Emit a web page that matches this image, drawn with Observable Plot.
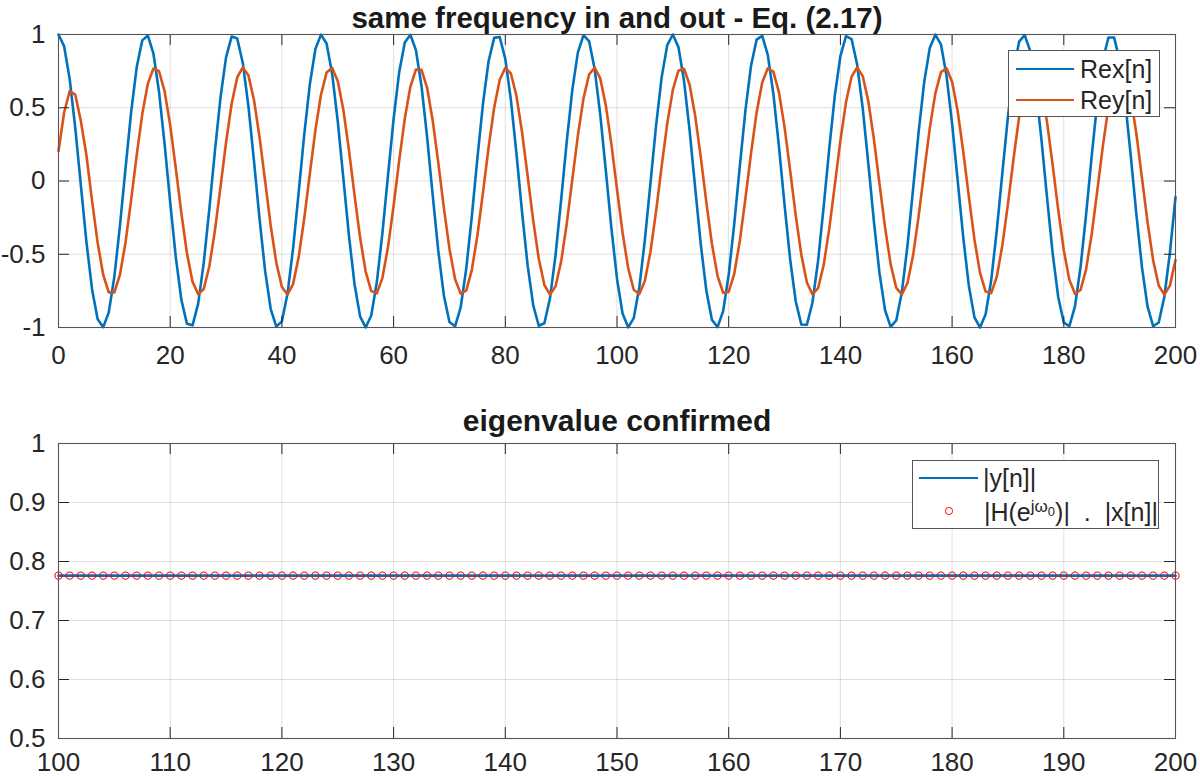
<!DOCTYPE html>
<html>
<head>
<meta charset="utf-8">
<script src="https://cdn.jsdelivr.net/npm/d3@7"></script>
<script src="https://cdn.jsdelivr.net/npm/@observablehq/plot@0.6"></script>
<style>
  html, body { margin: 0; padding: 0; background: #fff; }
  #wrap { position: relative; width: 1200px; height: 777px; overflow: hidden; background: #fff;
          font-family: "Liberation Sans", Arial, Helvetica, sans-serif; color: #262626; }
  .panel { position: absolute; left: 0; }
  .legend { position: absolute; box-sizing: border-box; background: #fff; border: 1px solid #555; }
  .legend .sw { position: absolute; height: 2.6px; }
  .legend .tx { position: absolute; font-size: 25px; line-height: 30px; height: 30px; white-space: nowrap; color: #262626; }
  .legend .circ { position: absolute; width: 7.4px; height: 7.4px; box-sizing: border-box; border: 1.1px solid #ff0000; border-radius: 50%; }
  sup { font-size: 17px; line-height: 0; vertical-align: 9px; }
  sup sub { font-size: 13px; vertical-align: -4px; }
</style>
</head>
<body>
<div id="wrap">
  <div class="panel" id="topPanel" style="top:0"></div>
  <div class="panel" id="botPanel" style="top:390px"></div>

  <div class="legend" style="left:1008px; top:50px; width:152px; height:67px;">
    <div class="sw" style="left:7px; width:58px; top:16.7px; background:#0072BD"></div>
    <div class="tx" style="left:71px; top:3px">Rex[n]</div>
    <div class="sw" style="left:7px; width:58px; top:47.7px; background:#D95319"></div>
    <div class="tx" style="left:71px; top:34px">Rey[n]</div>
  </div>

  <div class="legend" style="left:912px; top:460px; width:247px; height:69px;">
    <div class="sw" style="left:6px; width:59px; top:15.7px; background:#0072BD"></div>
    <div class="tx" style="left:70px; top:2px">|y[n]|</div>
    <div class="circ" style="left:32.3px; top:46.3px"></div>
    <div class="tx" style="left:71px; top:36px">|H(e<sup>jω<sub>0</sub></sup>)|&nbsp;&nbsp;.&nbsp;&nbsp;|x[n]|</div>
  </div>
</div>

<script>
// ---------- data ----------
const topTitle = "same frequency in and out - Eq. (2.17)";
const botTitle = "eigenvalue confirmed";

const xTicksTop = [0, 20, 40, 60, 80, 100, 120, 140, 160, 180, 200];
const yTicksTop = [-1, -0.5, 0, 0.5, 1];
const xTicksBot = [100, 110, 120, 130, 140, 150, 160, 170, 180, 190, 200];
const yTicksBot = [0.5, 0.6, 0.7, 0.8, 0.9, 1];

// Re x[n], n = 0..200
const rex = [
  1.000, 0.921, 0.697, 0.362, -0.029, -0.416, -0.737, -0.942, -0.998, -0.897,
  -0.654, -0.307, 0.087, 0.469, 0.776, 0.960, 0.993, 0.869, 0.608, 0.251,
  -0.146, -0.519, -0.811, -0.975, -0.985, -0.839, -0.561, -0.194, 0.203, 0.568,
  0.844, 0.986, 0.973, 0.806, 0.512, 0.137, -0.260, -0.615, -0.874, -0.994,
  -0.958, -0.770, -0.461, -0.079, 0.316, 0.660, 0.901, 0.999, 0.939, 0.731,
  0.408, 0.020, -0.371, -0.703, -0.924, -1.000, -0.918, -0.690, -0.354, 0.038,
  0.424, 0.743, 0.945, 0.998, 0.893, 0.647, 0.299, -0.096, -0.477, -0.781,
  -0.963, -0.992, -0.865, -0.601, -0.243, 0.154, 0.527, 0.816, 0.977, 0.983,
  0.834, 0.554, 0.186, -0.212, -0.576, -0.849, -0.988, -0.971, -0.801, -0.504,
  -0.128, 0.268, 0.622, 0.878, 0.995, 0.955, 0.764, 0.453, 0.070, -0.324,
  -0.667, -0.905, -0.999, -0.936, -0.725, -0.399, -0.011, 0.379, 0.709, 0.928,
  1.000, 0.914, 0.684, 0.346, -0.047, -0.432, -0.749, -0.948, -0.997, -0.889,
  -0.640, -0.291, 0.105, 0.484, 0.787, 0.965, 0.991, 0.861, 0.594, 0.234,
  -0.163, -0.534, -0.821, -0.979, -0.981, -0.829, -0.546, -0.177, 0.220, 0.583,
  0.853, 0.989, 0.969, 0.795, 0.496, 0.119, -0.277, -0.629, -0.882, -0.996,
  -0.952, -0.759, -0.445, -0.061, 0.332, 0.674, 0.908, 0.999, 0.933, 0.719,
  0.392, 0.003, -0.387, -0.716, -0.931, -1.000, -0.910, -0.678, -0.338, 0.056,
  0.440, 0.755, 0.951, 0.996, 0.885, 0.633, 0.282, -0.114, -0.492, -0.792,
  -0.967, -0.990, -0.856, -0.587, -0.226, 0.172, 0.542, 0.826, 0.980, 0.980,
  0.824, 0.539, 0.168, -0.229, -0.590, -0.858, -0.990, -0.966, -0.790, -0.489,
  -0.110
];

// Re y[n], n = 0..200
const rey = [
  0.205, 0.466, 0.614, 0.590, 0.410, 0.176, -0.132, -0.419, -0.640, -0.760,
  -0.760, -0.640, -0.419, -0.131, 0.176, 0.457, 0.665, 0.768, 0.749, 0.612,
  0.380, 0.087, -0.220, -0.493, -0.687, -0.773, -0.737, -0.584, -0.340, -0.042,
  0.263, 0.527, 0.707, 0.775, 0.721, 0.553, 0.299, -0.003, -0.305, -0.558,
  -0.724, -0.775, -0.704, -0.521, -0.256, 0.049, 0.347, 0.589, 0.740, 0.772,
  0.683, 0.486, 0.213, -0.095, -0.386, -0.618, -0.751, -0.767, -0.661, -0.451,
  -0.169, 0.139, 0.425, 0.643, 0.761, 0.759, 0.636, 0.413, 0.125, -0.184,
  -0.462, -0.669, -0.769, -0.748, -0.608, -0.374, -0.080, 0.227, 0.498, 0.691,
  0.773, 0.734, 0.580, 0.333, 0.034, -0.270, -0.532, -0.710, -0.776, -0.719,
  -0.549, -0.292, 0.011, 0.311, 0.564, 0.727, 0.774, 0.700, 0.516, 0.250,
  -0.055, -0.353, -0.594, -0.742, -0.771, -0.679, -0.481, -0.206, 0.101, 0.393,
  0.622, 0.753, 0.766, 0.657, 0.445, 0.163, -0.146, -0.430, -0.647, -0.763,
  -0.757, -0.632, -0.407, -0.118, 0.189, 0.468, 0.672, 0.769, 0.746, 0.605,
  0.368, 0.073, -0.234, -0.503, -0.693, -0.774, -0.732, -0.575, -0.327, -0.028,
  0.276, 0.537, 0.712, 0.775, 0.716, 0.544, 0.286, -0.018, -0.318, -0.569,
  -0.729, -0.774, -0.698, -0.511, -0.243, 0.063, 0.359, 0.598, 0.743, 0.770,
  0.677, 0.476, 0.200, -0.107, -0.399, -0.627, -0.755, -0.765, -0.653, -0.439,
  -0.156, 0.152, 0.437, 0.652, 0.764, 0.756, 0.629, 0.402, 0.111, -0.197,
  -0.473, -0.675, -0.770, -0.744, -0.601, -0.362, -0.066, 0.240, 0.508, 0.696,
  0.774, 0.730, 0.571, 0.321, 0.020, -0.282, -0.542, -0.715, -0.775, -0.714,
  -0.539
];

// |y[n]|, n = 100..200
const absY = [
  0.776, 0.776, 0.776, 0.776, 0.776, 0.776, 0.776, 0.776, 0.776, 0.776,
  0.776, 0.776, 0.776, 0.776, 0.776, 0.776, 0.776, 0.776, 0.776, 0.776,
  0.776, 0.776, 0.776, 0.776, 0.776, 0.776, 0.776, 0.776, 0.776, 0.776,
  0.776, 0.776, 0.776, 0.776, 0.776, 0.776, 0.776, 0.776, 0.776, 0.776,
  0.776, 0.776, 0.776, 0.776, 0.776, 0.776, 0.776, 0.776, 0.776, 0.776,
  0.776, 0.776, 0.776, 0.776, 0.776, 0.776, 0.776, 0.776, 0.776, 0.776,
  0.776, 0.776, 0.776, 0.776, 0.776, 0.776, 0.776, 0.776, 0.776, 0.776,
  0.776, 0.776, 0.776, 0.776, 0.776, 0.776, 0.776, 0.776, 0.776, 0.776,
  0.776, 0.776, 0.776, 0.776, 0.776, 0.776, 0.776, 0.776, 0.776, 0.776,
  0.776, 0.776, 0.776, 0.776, 0.776, 0.776, 0.776, 0.776, 0.776, 0.776,
  0.776
];

// |H(e^{jw0})| . |x[n]|, n = 100..200
const hAbsX = [
  0.776, 0.776, 0.776, 0.776, 0.776, 0.776, 0.776, 0.776, 0.776, 0.776,
  0.776, 0.776, 0.776, 0.776, 0.776, 0.776, 0.776, 0.776, 0.776, 0.776,
  0.776, 0.776, 0.776, 0.776, 0.776, 0.776, 0.776, 0.776, 0.776, 0.776,
  0.776, 0.776, 0.776, 0.776, 0.776, 0.776, 0.776, 0.776, 0.776, 0.776,
  0.776, 0.776, 0.776, 0.776, 0.776, 0.776, 0.776, 0.776, 0.776, 0.776,
  0.776, 0.776, 0.776, 0.776, 0.776, 0.776, 0.776, 0.776, 0.776, 0.776,
  0.776, 0.776, 0.776, 0.776, 0.776, 0.776, 0.776, 0.776, 0.776, 0.776,
  0.776, 0.776, 0.776, 0.776, 0.776, 0.776, 0.776, 0.776, 0.776, 0.776,
  0.776, 0.776, 0.776, 0.776, 0.776, 0.776, 0.776, 0.776, 0.776, 0.776,
  0.776, 0.776, 0.776, 0.776, 0.776, 0.776, 0.776, 0.776, 0.776, 0.776,
  0.776
];

// ---------- tables ----------
const nTop = d3.range(0, 201);
const topRows = nTop.map((n, i) => ({n, rex: rex[i], rey: rey[i]}));
const nBot = d3.range(100, 201);
const botRows = nBot.map((n, i) => ({n, absY: absY[i], hAbsX: hAbsX[i]}));

// ---------- styling ----------
const BLUE = "#0072BD", ORANGE = "#D95319", AXC = "#262626";
const fmt = d => String(d);
const FONT = "'Liberation Sans', Arial, Helvetica, sans-serif";
const W = 1200, ML = 58, MR = 25;
const plotW = W - ML - MR;
const TICK = 11;

function panel({height, marginTop, marginBottom, xDomain, yDomain, xTicks, yTicks, title, titleDy, titleSize, xPad, data}) {
  const plotH = height - marginTop - marginBottom;
  return Plot.plot({
    width: W, height, marginLeft: ML, marginRight: MR, marginTop, marginBottom,
    style: {fontFamily: FONT, fontSize: "26px", color: AXC, background: "transparent", overflow: "visible"},
    x: {domain: xDomain, label: null},
    y: {domain: yDomain, label: null},
    marks: [
      Plot.gridX(xTicks, {stroke: AXC, strokeOpacity: 0.15, strokeWidth: 1}),
      Plot.gridY(yTicks, {stroke: AXC, strokeOpacity: 0.15, strokeWidth: 1}),
      ...data,
      // inward ticks on all four sides
      Plot.tickX(xTicks, {x: d => d, stroke: AXC, strokeWidth: 1, insetTop: plotH - TICK}),
      Plot.tickX(xTicks, {x: d => d, stroke: AXC, strokeWidth: 1, insetBottom: plotH - TICK}),
      Plot.tickY(yTicks, {y: d => d, stroke: AXC, strokeWidth: 1, insetRight: plotW - TICK}),
      Plot.tickY(yTicks, {y: d => d, stroke: AXC, strokeWidth: 1, insetLeft: plotW - TICK}),
      Plot.axisX(xTicks, {anchor: "bottom", tickSize: 0, tickPadding: xPad, tickFormat: fmt, label: null, fill: AXC}),
      Plot.axisY(yTicks, {anchor: "left", tickSize: 0, tickPadding: 13, tickFormat: fmt, label: null, fill: AXC}),
      Plot.frame({stroke: "#555", strokeWidth: 1.1}),
      Plot.text([title], {frameAnchor: "top", lineAnchor: "bottom", dy: titleDy, fontWeight: "bold", fontSize: titleSize, fill: "#1a1a1a"})
    ]
  });
}

const topPlot = panel({
  height: 390, marginTop: 34, marginBottom: 63,
  xDomain: [0, 200], yDomain: [-1, 1], xTicks: xTicksTop, yTicks: yTicksTop,
  title: topTitle, titleDy: -7, titleSize: 29.5, xPad: 18,
  data: [
    Plot.line(topRows, {x: "n", y: "rex", stroke: BLUE, strokeWidth: 2.6}),
    Plot.line(topRows, {x: "n", y: "rey", stroke: ORANGE, strokeWidth: 2.6})
  ]
});

const botPlot = panel({
  height: 387, marginTop: 53, marginBottom: 39,
  xDomain: [100, 200], yDomain: [0.5, 1], xTicks: xTicksBot, yTicks: yTicksBot,
  title: botTitle, titleDy: -13, titleSize: 30, xPad: 14,
  data: [
    Plot.line(botRows, {x: "n", y: "absY", stroke: BLUE, strokeWidth: 2.6}),
    Plot.dot(botRows, {x: "n", y: "hAbsX", r: 3.6, stroke: "#ff0000", strokeWidth: 1.1, fill: "none"})
  ]
});

document.getElementById("topPanel").appendChild(topPlot);
document.getElementById("botPanel").appendChild(botPlot);
</script>
</body>
</html>
